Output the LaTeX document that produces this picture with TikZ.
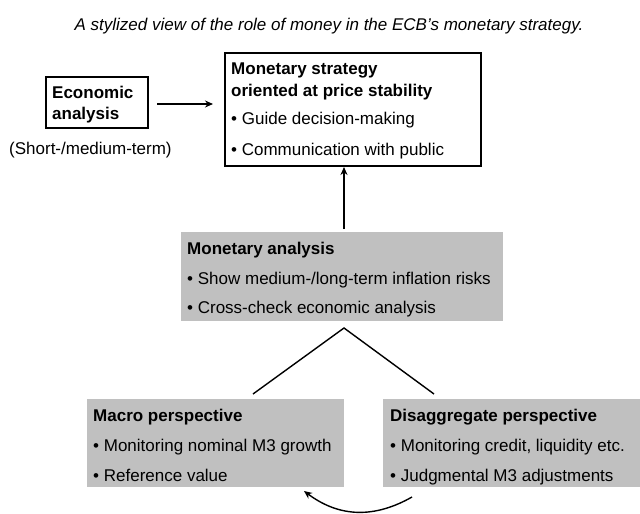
\documentclass[tikz,border=0pt]{standalone}
\usepackage{fontspec}
\setmainfont{Liberation Sans}
\usetikzlibrary{arrows.meta}
\definecolor{boxgray}{HTML}{C0C0C0}
\begin{document}
\begin{tikzpicture}[x=1pt,y=-1pt,
  txt/.style={anchor=base west,inner sep=0pt,font=\fontsize{17}{20}\selectfont},
  hd/.style={anchor=base west,inner sep=0pt,font=\fontsize{17}{20}\selectfont\bfseries},
  graybox/.style={fill=boxgray,draw=none,anchor=north west,inner sep=0pt},
  whitebox/.style={draw=black,line width=2pt,fill=white,anchor=north west,inner sep=0pt},
  conn/.style={line width=1.4pt},
  arr/.style={line width=1.4pt,-{Stealth[length=8pt,width=7pt]}}
]
\useasboundingbox (0,0) rectangle (640,514);
\fill[white] (0,0) rectangle (640,514);

\node[anchor=base,inner sep=0pt,font=\fontsize{17}{20}\selectfont\itshape] (title) at (329,30)
  {A stylized view of the role of money in the ECB’s monetary strategy.};

% Economic analysis
\node[whitebox,minimum width=102pt,minimum height=51pt] (eco) at (45,76) {};
\node[hd] (ecot1) at (52,98) {Economic};
\node[hd] (ecot2) at (52,119) {analysis};
\node[txt] (short) at (9,154) {(Short-/medium-term)};

% Monetary strategy
\node[whitebox,minimum width=256pt,minimum height=113pt] (ms) at (224,52) {};
\node[hd] (mst1) at (231,74) {Monetary strategy};
\node[hd] (mst2) at (231,96) {oriented at price stability};
\node[txt] (mst3) at (231,124) {• Guide decision-making};
\node[txt] (mst4) at (231,155) {• Communication with public};

% Monetary analysis
\node[graybox,minimum width=322pt,minimum height=89pt] (ma) at (181,232) {};
\node[hd] (mat1) at (187,254) {Monetary analysis};
\node[txt] (mat2) at (187,284) {• Show medium-/long-term inflation risks};
\node[txt] (mat3) at (187,313) {• Cross-check economic analysis};

% Macro perspective
\node[graybox,minimum width=257pt,minimum height=88pt] (mac) at (87,399) {};
\node[hd] (mact1) at (93,421) {Macro perspective};
\node[txt] (mact2) at (93,451) {• Monitoring nominal M3 growth};
\node[txt] (mact3) at (93,481) {• Reference value};

% Disaggregate perspective
\node[graybox,minimum width=257pt,minimum height=88pt] (dis) at (383,399) {};
\node[hd] (dist1) at (390,421) {Disaggregate perspective};
\node[txt] (dist2) at (390,451) {• Monitoring credit, liquidity etc.};
\node[txt] (dist3) at (390,481) {• Judgmental M3 adjustments};

% connectors
\coordinate (ea) at (157,104);
\coordinate (eb) at (213,104);
\draw[arr] (ea) -- (eb);

\coordinate (va) at (344,229);
\coordinate (vb) at (344,167);
\draw[arr] (va) -- (vb);

\coordinate (apex) at (344,328);
\coordinate (lend) at (253,394);
\coordinate (rend) at (434,394);
\draw[conn] (lend) -- (apex) -- (rend);

\coordinate (ba) at (412,497);
\coordinate (bb) at (304,491);
\draw[arr] (ba) .. controls (375,518) and (340,518) .. (bb);
\end{tikzpicture}
\end{document}
